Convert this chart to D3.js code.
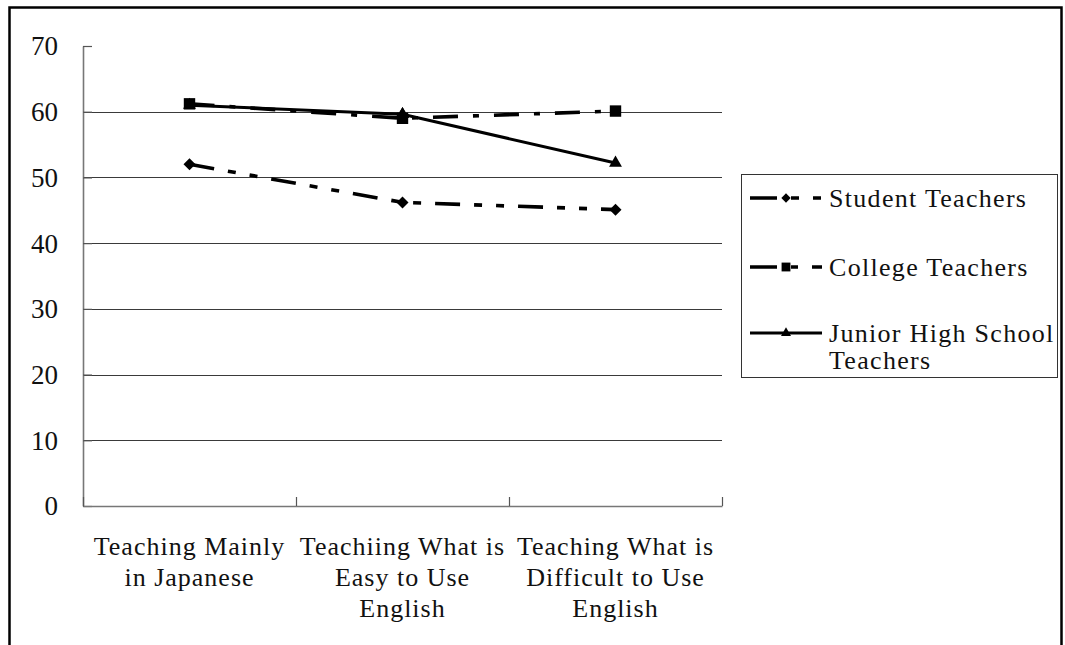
<!DOCTYPE html>
<html>
<head>
<meta charset="utf-8">
<script src="https://cdn.jsdelivr.net/npm/d3@7"></script>
<style>
  html, body { margin: 0; padding: 0; background: #fff; }
  svg { display: block; }
  text { font-family: "Liberation Serif", "DejaVu Serif", serif; fill: #111; }
</style>
</head>
<body>
<svg id="chart" width="1065" height="645"></svg>
<script>
// ---- data ----
const categories = ["Teaching Mainly in Japanese", "Teachiing What is Easy to Use English", "Teaching What is Difficult to Use English"];
const categoryLines = [
  ["Teaching Mainly", "in Japanese"],
  ["Teachiing What is", "Easy to Use", "English"],
  ["Teaching What is", "Difficult to Use", "English"]
];
const seriesNames = ["Student Teachers", "College Teachers", "Junior High School Teachers"];
const legendLines = [["Student Teachers"], ["College Teachers"], ["Junior High School", "Teachers"]];
const studentTeachers = [52, 46.2, 45.1];
const collegeTeachers = [61.2, 59.0, 60.1];
const juniorHighTeachers = [61.0, 59.6, 52.2];
const yTicks = [0, 10, 20, 30, 40, 50, 60, 70];

// ---- layout ----
const svg = d3.select("#chart");
const plot = { left: 83, right: 722, top: 46, bottom: 506 };

const x = d3.scaleBand().domain(categories).range([plot.left, plot.right]).padding(0);
const xb = d3.scaleLinear().domain([0, categories.length]).range([plot.left, plot.right]);
const y = d3.scaleLinear().domain([0, 70]).range([plot.bottom, plot.top]);
const cx = (i) => x(categories[i]) + x.bandwidth() / 2;

const diamond = {
  draw(ctx, size) { const r = Math.sqrt(size) / 2; ctx.moveTo(0, -r); ctx.lineTo(r, 0); ctx.lineTo(0, r); ctx.lineTo(-r, 0); ctx.closePath(); }
};

// outer frame
svg.append("rect")
  .attr("x", 9.5).attr("y", 7.5).attr("width", 1052).attr("height", 700)
  .attr("fill", "none").attr("stroke", "#000").attr("stroke-width", 2.5);

// gridlines
svg.append("g").selectAll("line")
  .data(yTicks.filter(d => d > 0 && d < 70))
  .join("line")
  .attr("x1", plot.left).attr("x2", plot.right)
  .attr("y1", d => Math.round(y(d)) + 0.5).attr("y2", d => Math.round(y(d)) + 0.5)
  .attr("stroke", "#3a3a3a").attr("stroke-width", 1);

// y axis
const yAxis = svg.append("g")
  .attr("transform", `translate(${plot.left},0)`)
  .call(d3.axisLeft(y).tickValues(yTicks).tickSizeInner(-9).tickSizeOuter(0).tickPadding(25));
yAxis.select(".domain").attr("stroke", "#777").attr("stroke-width", 1.6);
yAxis.selectAll(".tick line").attr("stroke", "#555").attr("stroke-width", 1.2);
yAxis.selectAll(".tick text")
  .attr("font-family", "Liberation Serif").attr("font-size", 27)
  .attr("dy", "0.33em").attr("fill", "#111");

// x axis with boundary ticks
const xAxis = svg.append("g")
  .attr("transform", `translate(0,${plot.bottom})`)
  .call(d3.axisBottom(xb).tickValues(d3.range(0, categories.length + 1)).tickSizeInner(-9).tickSizeOuter(0).tickFormat(""));
xAxis.select(".domain").attr("stroke", "#777").attr("stroke-width", 1.6);
xAxis.selectAll(".tick line").attr("stroke", "#555").attr("stroke-width", 1.2);

// category labels
const catG = svg.append("g");
categories.forEach((c, i) => {
  const t = catG.append("text")
    .attr("x", cx(i))
    .attr("y", 555)
    .attr("text-anchor", "middle")
    .attr("font-size", 26)
    .attr("letter-spacing", 1);
  categoryLines[i].forEach((ln, j) => {
    t.append("tspan").attr("x", cx(i)).attr("dy", j === 0 ? 0 : 31).text(ln);
  });
});

// series
const series = [
  { name: seriesNames[0], values: studentTeachers, dash: "25,14,8,14,8,14", legendDash: "27,14,8,14,8,14", width: 3.6, marker: diamond, msize: 144 },
  { name: seriesNames[1], values: collegeTeachers, dash: "25,15,6,15", legendDash: "27,14,7,14,10", width: 3.6, marker: d3.symbolSquare, msize: 130 },
  { name: seriesNames[2], values: juniorHighTeachers, dash: null, legendDash: null, width: 3, marker: d3.symbolTriangle, msize: 72 }
];

const line = d3.line()
  .x((d, i) => cx(i))
  .y(d => y(d));

series.forEach(s => {
  svg.append("path")
    .datum(s.values)
    .attr("d", line)
    .attr("fill", "none")
    .attr("stroke", "#000")
    .attr("stroke-width", s.width)
    .attr("stroke-dasharray", s.dash)
    .attr("stroke-linecap", "butt");
});
// markers: junior first so the square covers it at point 1
[series[2], series[0], series[1]].forEach(s => {
  svg.append("g").selectAll("path")
    .data(s.values)
    .join("path")
    .attr("transform", (d, i) => `translate(${cx(i)},${y(d)})`)
    .attr("d", d3.symbol().type(s.marker).size(s.msize))
    .attr("fill", "#000");
});
// junior triangle at point 2 sits on top of the square
svg.append("path")
  .attr("transform", `translate(${cx(1)},${y(juniorHighTeachers[1])})`)
  .attr("d", d3.symbol().type(d3.symbolTriangle).size(72)())
  .attr("fill", "#000");

// legend
const legend = { x: 741, y: 174, w: 316, h: 203 };
svg.append("rect")
  .attr("x", legend.x + 0.5).attr("y", legend.y + 0.5)
  .attr("width", legend.w).attr("height", legend.h)
  .attr("fill", "#fff").attr("stroke", "#333").attr("stroke-width", 1);

const rowY = [198, 267, 333];
series.forEach((s, i) => {
  const g = svg.append("g");
  g.append("line")
    .attr("x1", 750).attr("x2", 822)
    .attr("y1", rowY[i]).attr("y2", rowY[i])
    .attr("stroke", "#000").attr("stroke-width", s.width)
    .attr("stroke-dasharray", s.legendDash);
  g.append("path")
    .attr("transform", `translate(786,${rowY[i]})`)
    .attr("d", d3.symbol().type(s.marker).size(s.msize * 0.6)())
    .attr("fill", "#000");
  const t = g.append("text")
    .attr("x", 829).attr("y", rowY[i] + 9)
    .attr("font-size", 26).attr("letter-spacing", 1.3);
  legendLines[i].forEach((ln, j) => {
    t.append("tspan").attr("x", 829).attr("dy", j === 0 ? 0 : 27).text(ln);
  });
});
</script>
</body>
</html>
